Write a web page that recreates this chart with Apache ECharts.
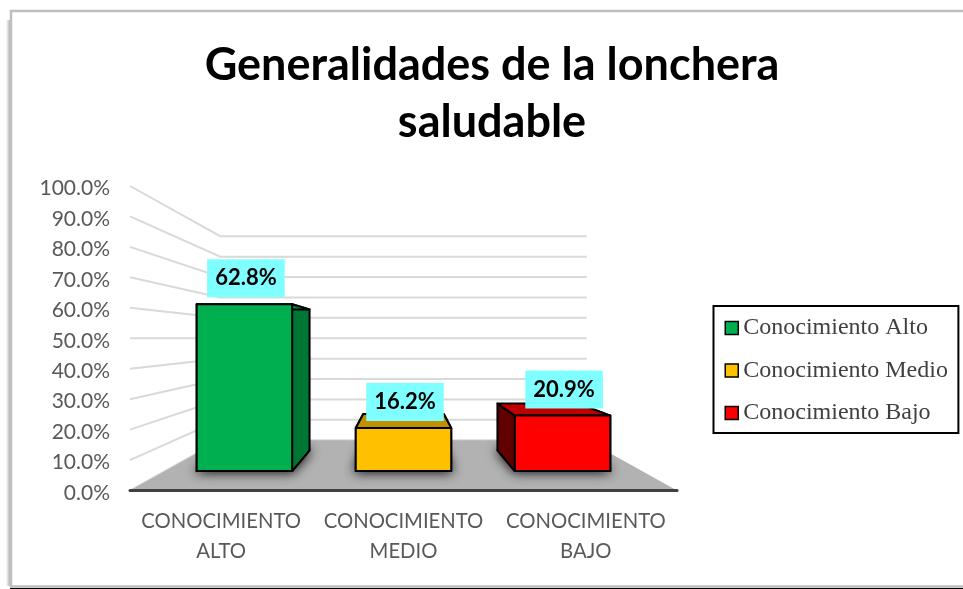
<!DOCTYPE html>
<html>
<head>
<meta charset="utf-8">
<style>html,body{margin:0;padding:0;background:#fff}#c{width:963px;height:589px}</style>
<script src="https://cdn.jsdelivr.net/npm/echarts@6/dist/echarts.min.js"></script>
</head>
<body>
<div id="c"></div>
<script>
const titleText = 'Generalidades de la lonchera\nsaludable';
const categories = ['CONOCIMIENTO ALTO', 'CONOCIMIENTO MEDIO', 'CONOCIMIENTO BAJO'];
const seriesNames = ['Conocimiento Alto', 'Conocimiento Medio', 'Conocimiento Bajo'];
const values = [62.8, 16.2, 20.9];
const yTicks = [0, 10, 20, 30, 40, 50, 60, 70, 80, 90, 100];
const frontColors = ['#00B050', '#FFC000', '#FF0000'];
const sideColors = ['#007635', '#A67D00', '#600000'];
const topColors = ['#00853C', '#BF9000', '#C00000'];

// Pseudo-3D: points are scaled toward a vanishing point; depth = fraction of the way there
const WALL = 0.33, BAR_FRONT = 0.1275, BAR_BACK = 0.264, BAR_HALF = 0.30;

function projector(api) {
  const vp = api.coord([1, 50]);
  return (p, s) => [p[0] + (vp[0] - p[0]) * s, p[1] + (vp[1] - p[1]) * s];
}

function renderGrid(params, api) {
  const cs = params.coordSys, proj = projector(api);
  const y = api.coord([0, api.value(0)])[1];
  const a = [cs.x, y], b = proj(a, WALL), c = proj([cs.x + cs.width, y], WALL);
  return { type: 'polyline', shape: { points: [a, b, c] },
    style: { fill: 'none', stroke: '#d9d9d9', lineWidth: 2 } };
}

function renderFloor(params, api) {
  const cs = params.coordSys, proj = projector(api);
  const y = api.coord([0, 0])[1];
  const a = [cs.x, y], d = [cs.x + cs.width, y];
  return { type: 'polygon', shape: { points: [a, proj(a, WALL), proj(d, WALL), d] },
    style: { fill: '#b2b2b2' } };
}

function renderBar(params, api) {
  const i = api.value(0), v = api.value(1), band = api.size([1, 0])[0];
  const proj = projector(api), idx = params.seriesIndex - 2;
  const L = api.coord([i, v])[0] - band * BAR_HALF, R = api.coord([i, v])[0] + band * BAR_HALF;
  const T = api.coord([i, v])[1], B = api.coord([i, 0])[1];
  const f = (x, y) => proj([x, y], BAR_FRONT), k = (x, y) => proj([x, y], BAR_BACK);
  const edge = { stroke: '#000', lineWidth: 2, lineJoin: 'round' };
  const poly = (points, fill, extra) => ({ type: 'polygon', shape: { points },
    style: Object.assign({ fill }, edge, extra || {}) });
  const lab = f((L + R) / 2, T);
  return { type: 'group', children: [
    { type: 'polygon', shape: { points: [f(L, B), f(R, B), k(R, B), k(L, B)] },
      style: { fill: '#200000', stroke: '#200000', lineWidth: 2, lineJoin: 'round',
        shadowBlur: 12, shadowColor: 'rgba(0,0,0,1)' } },
    poly([f(L, B), f(L, T), k(L, T), k(L, B)], sideColors[idx]),
    poly([f(R, B), f(R, T), k(R, T), k(R, B)], sideColors[idx]),
    poly([f(L, T), f(R, T), k(R, T), k(L, T)], topColors[idx]),
    poly([f(L, B), f(L, T), f(R, T), f(R, B)], frontColors[idx]),
    { type: 'text', z2: 10, style: {
        x: lab[0] + 1.5, y: lab[1] - 26, text: v.toFixed(1) + '%', align: 'center', verticalAlign: 'middle',
        fill: '#000', font: 'bold 22px Lato', backgroundColor: '#7FFFFF', padding: [8, 8, 8, 8] } }
  ]};
}

const chart = echarts.init(document.getElementById('c'), null, { renderer: 'canvas' });
const barSeries = seriesNames.map((name, i) => ({
  name, type: 'custom', coordinateSystem: 'cartesian2d', clip: false, z: 3,
  itemStyle: { color: frontColors[i] },
  renderItem: renderBar, data: [[i, values[i]]],
  encode: { x: 0, y: 1 }
}));

chart.setOption({
  animation: false,
  backgroundColor: '#fff',
  title: { text: titleText, left: 487, top: 32, textAlign: 'center',
    textStyle: { fontFamily: 'Lato', fontWeight: 'bold', fontSize: 45, lineHeight: 57, color: '#000' } },
  grid: { left: 130, top: 186, width: 547, height: 304.5, containLabel: false },
  xAxis: { type: 'category', data: categories, z: 5,
    axisTick: { show: false },
    axisLine: { lineStyle: { color: '#404040', width: 3, cap: 'round' } },
    axisLabel: { interval: 0, margin: 16, color: '#595959', fontFamily: 'Lato', fontSize: 20.3, lineHeight: 30,
      formatter: s => s.replace(' ', '\n') } },
  yAxis: { type: 'value', min: 0, max: 100, interval: 10,
    axisLine: { show: false }, axisTick: { show: false }, splitLine: { show: false },
    axisLabel: { margin: 20,
      formatter: v => '{t|' + v.toFixed(1) + '%}',
      rich: { t: { color: '#595959', fontFamily: 'Lato', fontSize: 21, padding: [5, 0, 0, 0] } } } },
  legend: { data: seriesNames, orient: 'vertical', left: 713.5, top: 306,
    backgroundColor: '#fff', borderColor: '#000', borderWidth: 2,
    padding: [10, 10.5, 8, 11], itemGap: 18.5, itemWidth: 13, itemHeight: 13, icon: 'rect',
    itemStyle: { borderColor: '#000', borderWidth: 1.5 },
    textStyle: { fontFamily: 'Liberation Serif', fontSize: 24, color: '#404040' } },
  graphic: [
    { type: 'rect', silent: true, z: -1, shape: { x: 6, y: 20, width: 5, height: 566 },
      style: { fill: new echarts.graphic.LinearGradient(0, 0, 1, 0,
        [{ offset: 0, color: 'rgba(150,150,150,0)' }, { offset: 1, color: 'rgba(150,150,150,0.9)' }]) } },
    { type: 'rect', silent: true, z: -1, shape: { x: 11, y: 11, width: 1000, height: 575.5 },
      style: { fill: '#fff', stroke: '#bfbfbf', lineWidth: 2.5 } },
    { type: 'rect', silent: true, z: -1, shape: { x: 10, y: 588, width: 953, height: 1 },
      style: { fill: '#000' } }
  ],
  series: [
    { name: 'grid', type: 'custom', coordinateSystem: 'cartesian2d', clip: false, z: 1,
      renderItem: renderGrid, data: yTicks.map(v => [v]), encode: { y: 0 } },
    { name: 'floor', type: 'custom', coordinateSystem: 'cartesian2d', clip: false, z: 2,
      renderItem: renderFloor, data: [[0]], encode: { y: 0 } }
  ].concat(barSeries)
});
</script>
</body>
</html>
